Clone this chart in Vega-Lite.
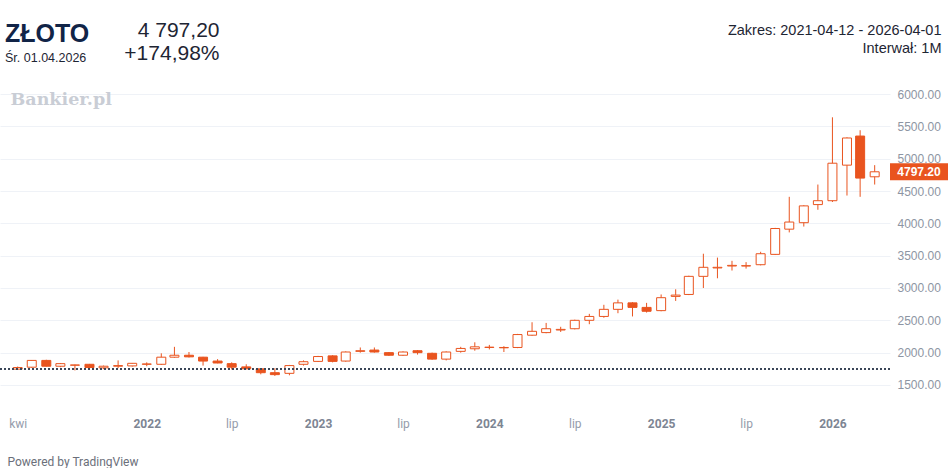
{
  "$schema": "https://vega.github.io/schema/vega-lite/v6.json",
  "width": 890,
  "height": 324,
  "autosize": {"type": "none"},
  "padding": {"left": 0, "top": 84, "right": 58, "bottom": 60},
  "background": "white",
  "config": {"view": {"stroke": null}, "font": "Liberation Sans"},
  "title": {
    "text": "ZŁOTO",
    "subtitle": "Śr. 01.04.2026",
    "anchor": "start",
    "frame": "group",
    "offset": 20,
    "dx": 5,
    "dy": 65,
    "font": "Liberation Sans",
    "fontSize": 25,
    "fontWeight": "bold",
    "color": "#112447",
    "subtitleFont": "Liberation Sans",
    "subtitleFontSize": 12.5,
    "subtitleColor": "#1e2533",
    "subtitlePadding": 5
  },
  "data": {
    "values": [
      {"date": "2021-04-01", "open": 1745, "high": 1785, "low": 1735, "close": 1770},
      {"date": "2021-05-01", "open": 1775, "high": 1885, "low": 1765, "close": 1880},
      {"date": "2021-06-01", "open": 1880, "high": 1890, "low": 1785, "close": 1790},
      {"date": "2021-07-01", "open": 1790, "high": 1840, "low": 1775, "close": 1830},
      {"date": "2021-08-01", "open": 1805, "high": 1815, "low": 1725, "close": 1810},
      {"date": "2021-09-01", "open": 1820, "high": 1825, "low": 1765, "close": 1770},
      {"date": "2021-10-01", "open": 1765, "high": 1800, "low": 1745, "close": 1790},
      {"date": "2021-11-01", "open": 1790, "high": 1880, "low": 1760, "close": 1800},
      {"date": "2021-12-01", "open": 1795, "high": 1840, "low": 1785, "close": 1835},
      {"date": "2022-01-01", "open": 1820, "high": 1850, "low": 1790, "close": 1825},
      {"date": "2022-02-01", "open": 1820, "high": 1990, "low": 1810, "close": 1930},
      {"date": "2022-03-01", "open": 1930, "high": 2090, "low": 1920, "close": 1960},
      {"date": "2022-04-01", "open": 1960, "high": 2010, "low": 1925, "close": 1935},
      {"date": "2022-05-01", "open": 1930, "high": 1935, "low": 1800, "close": 1870},
      {"date": "2022-06-01", "open": 1870, "high": 1900, "low": 1835, "close": 1840},
      {"date": "2022-07-01", "open": 1830, "high": 1850, "low": 1740, "close": 1775},
      {"date": "2022-08-01", "open": 1780, "high": 1820, "low": 1745, "close": 1750},
      {"date": "2022-09-01", "open": 1750, "high": 1760, "low": 1665, "close": 1690},
      {"date": "2022-10-01", "open": 1690, "high": 1760, "low": 1640, "close": 1660},
      {"date": "2022-11-01", "open": 1680, "high": 1810, "low": 1650, "close": 1800},
      {"date": "2022-12-01", "open": 1820, "high": 1880, "low": 1800, "close": 1860},
      {"date": "2023-01-01", "open": 1865, "high": 1950, "low": 1855, "close": 1940},
      {"date": "2023-02-01", "open": 1950, "high": 1960, "low": 1850, "close": 1865},
      {"date": "2023-03-01", "open": 1870, "high": 2020, "low": 1860, "close": 2010},
      {"date": "2023-04-01", "open": 2020, "high": 2080, "low": 2000, "close": 2030},
      {"date": "2023-05-01", "open": 2040, "high": 2080, "low": 2000, "close": 2010},
      {"date": "2023-06-01", "open": 2000, "high": 2010, "low": 1950, "close": 1960},
      {"date": "2023-07-01", "open": 1960, "high": 2020, "low": 1950, "close": 2010},
      {"date": "2023-08-01", "open": 2030, "high": 2040, "low": 1970, "close": 2000},
      {"date": "2023-09-01", "open": 1990, "high": 2000, "low": 1890, "close": 1900},
      {"date": "2023-10-01", "open": 1900, "high": 2020, "low": 1880, "close": 2010},
      {"date": "2023-11-01", "open": 2020, "high": 2090, "low": 2000, "close": 2065},
      {"date": "2023-12-01", "open": 2060, "high": 2160, "low": 2030, "close": 2090},
      {"date": "2024-01-01", "open": 2080, "high": 2120, "low": 2050, "close": 2085},
      {"date": "2024-02-01", "open": 2080, "high": 2100, "low": 2010, "close": 2075},
      {"date": "2024-03-01", "open": 2080, "high": 2290, "low": 2070, "close": 2280},
      {"date": "2024-04-01", "open": 2270, "high": 2470, "low": 2260, "close": 2330},
      {"date": "2024-05-01", "open": 2310, "high": 2460, "low": 2300, "close": 2370},
      {"date": "2024-06-01", "open": 2350, "high": 2400, "low": 2320, "close": 2360},
      {"date": "2024-07-01", "open": 2370, "high": 2510, "low": 2360, "close": 2500},
      {"date": "2024-08-01", "open": 2500, "high": 2600, "low": 2440, "close": 2560},
      {"date": "2024-09-01", "open": 2560, "high": 2740, "low": 2540, "close": 2670},
      {"date": "2024-10-01", "open": 2670, "high": 2820, "low": 2610, "close": 2770},
      {"date": "2024-11-01", "open": 2770, "high": 2780, "low": 2560, "close": 2700},
      {"date": "2024-12-01", "open": 2700, "high": 2770, "low": 2620, "close": 2640},
      {"date": "2025-01-01", "open": 2650, "high": 2900, "low": 2640, "close": 2850},
      {"date": "2025-02-01", "open": 2870, "high": 2980, "low": 2800, "close": 2890},
      {"date": "2025-03-01", "open": 2900, "high": 3190, "low": 2890, "close": 3180},
      {"date": "2025-04-01", "open": 3180, "high": 3530, "low": 3000, "close": 3320},
      {"date": "2025-05-01", "open": 3310, "high": 3470, "low": 3150, "close": 3320},
      {"date": "2025-06-01", "open": 3340, "high": 3420, "low": 3270, "close": 3350},
      {"date": "2025-07-01", "open": 3340, "high": 3400, "low": 3300, "close": 3345},
      {"date": "2025-08-01", "open": 3360, "high": 3560, "low": 3350, "close": 3530},
      {"date": "2025-09-01", "open": 3520, "high": 3930, "low": 3510, "close": 3920},
      {"date": "2025-10-01", "open": 3910, "high": 4410, "low": 3860, "close": 4020},
      {"date": "2025-11-01", "open": 4010, "high": 4280, "low": 3950, "close": 4270},
      {"date": "2025-12-01", "open": 4290, "high": 4600, "low": 4210, "close": 4350},
      {"date": "2026-01-01", "open": 4350, "high": 5640, "low": 4330, "close": 4930},
      {"date": "2026-02-01", "open": 4900, "high": 5330, "low": 4430, "close": 5320},
      {"date": "2026-03-01", "open": 5350, "high": 5440, "low": 4410, "close": 4700},
      {"date": "2026-04-01", "open": 4720, "high": 4900, "low": 4600, "close": 4797.2}
    ]
  },
  "resolve": {"axis": {"x": "independent", "y": "independent"}},
  "layer": [
    {
      "mark": {"type": "rule", "color": "#e9541f", "strokeWidth": 1},
      "encoding": {
        "x": {
          "field": "date",
          "type": "temporal",
          "scale": {
            "type": "utc",
            "domain": [
              {"year": 2021, "month": 3, "date": 5, "utc": true},
              {"year": 2026, "month": 4, "date": 23, "utc": true}
            ]
          },
          "axis": {
            "orient": "bottom",
            "values": [
              {"year": 2021, "month": 4, "date": 1, "utc": true},
              {"year": 2022, "month": 1, "date": 1, "utc": true},
              {"year": 2022, "month": 7, "date": 1, "utc": true},
              {"year": 2023, "month": 1, "date": 1, "utc": true},
              {"year": 2023, "month": 7, "date": 1, "utc": true},
              {"year": 2024, "month": 1, "date": 1, "utc": true},
              {"year": 2024, "month": 7, "date": 1, "utc": true},
              {"year": 2025, "month": 1, "date": 1, "utc": true},
              {"year": 2025, "month": 7, "date": 1, "utc": true},
              {"year": 2026, "month": 1, "date": 1, "utc": true}
            ],
            "labelExpr": "utcmonth(datum.value) == 0 ? utcFormat(datum.value, '%Y') : (utcmonth(datum.value) == 3 ? 'kwi' : 'lip')",
            "labelFont": "Roboto",
            "labelFontSize": 12,
            "labelColor": {"condition": {"test": "utcmonth(datum.value) == 0", "value": "#7d8593"}, "value": "#959cab"},
            "labelFontWeight": {"condition": {"test": "utcmonth(datum.value) == 0", "value": "bold"}, "value": "normal"},
            "labelPadding": 10,
            "labelOverlap": false,
            "labelFlush": false,
            "ticks": false,
            "domain": false,
            "grid": false,
            "title": "Powered by TradingView",
            "titleX": 7,
            "titleY": 57,
            "titleAlign": "left",
            "titleBaseline": "alphabetic",
            "titleAngle": 0,
            "titleFont": "Roboto",
            "titleFontSize": 12,
            "titleFontWeight": "normal",
            "titleColor": "#6b6f7a"
          }
        },
        "y": {
          "field": "low",
          "type": "quantitative",
          "scale": {"domain": [1144, 6155], "nice": false, "zero": false},
          "axis": {
            "orient": "right",
            "values": [1500, 2000, 2500, 3000, 3500, 4000, 4500, 5000, 5500, 6000],
            "format": ".2f",
            "labelFont": "Liberation Sans",
            "labelFontSize": 12,
            "labelColor": "#8d95a3",
            "labelPadding": 7,
            "labelAlign": "left",
            "ticks": false,
            "domain": false,
            "grid": true,
            "gridColor": "#eff2f7",
            "title": ["Zakres: 2021-04-12 - 2026-04-01", "Interwał: 1M"],
            "titleAngle": 0,
            "titleAlign": "right",
            "titleBaseline": "alphabetic",
            "titleX": 51,
            "titleY": -50,
            "titleFont": "Liberation Sans",
            "titleFontSize": 14.5,
            "titleFontWeight": "normal",
            "titleColor": "#1e2533",
            "titleLineHeight": 18
          }
        },
        "y2": {"field": "high"}
      }
    },
    {
      "mark": {"type": "bar", "size": 9, "stroke": "#e9541f", "strokeWidth": 1},
      "encoding": {
        "x": {
          "field": "date",
          "type": "temporal",
          "axis": {
            "orient": "top",
            "labels": false,
            "ticks": false,
            "domain": false,
            "grid": false,
            "title": ["4 797,20", "+174,98%"],
            "titleX": 219,
            "titleY": -48,
            "titleAlign": "right",
            "titleBaseline": "alphabetic",
            "titleAngle": 0,
            "titleFont": "Liberation Sans",
            "titleFontSize": 21,
            "titleFontWeight": "normal",
            "titleColor": "#1e2533",
            "titleLineHeight": 23
          }
        },
        "y": {
          "field": "open",
          "type": "quantitative",
          "axis": {
            "orient": "left",
            "labels": false,
            "ticks": false,
            "domain": false,
            "grid": false,
            "title": "Bankier.pl",
            "titleX": 10,
            "titleY": 20,
            "titleAlign": "left",
            "titleBaseline": "alphabetic",
            "titleAngle": 0,
            "titleFont": "DejaVu Serif",
            "titleFontSize": 17.5,
            "titleFontWeight": "bold",
            "titleColor": "#c9cdd5"
          }
        },
        "y2": {"field": "close"},
        "fill": {
          "condition": {"test": "datum.close < datum.open", "value": "#e9541f"},
          "value": "#ffffff"
        }
      }
    },
    {
      "mark": {"type": "rule", "color": "#3d4758", "strokeDash": [2, 2], "strokeWidth": 1},
      "encoding": {
        "y": {"datum": 1744.6, "type": "quantitative", "axis": null}
      }
    },
    {
      "transform": [{"filter": "datum.close == 4797.2"}],
      "mark": {"type": "tick", "orient": "horizontal", "color": "#e9541f", "size": 60, "thickness": 17, "xOffset": 30, "opacity": 1},
      "encoding": {
        "x": {"value": "width"},
        "y": {"field": "close", "type": "quantitative", "axis": null}
      }
    },
    {
      "transform": [{"filter": "datum.close == 4797.2"}],
      "mark": {"type": "text", "align": "center", "baseline": "middle", "dx": 29, "color": "#ffffff", "font": "Liberation Sans", "fontSize": 12, "fontWeight": "bold"},
      "encoding": {
        "x": {"value": "width"},
        "y": {"field": "close", "type": "quantitative", "axis": null},
        "text": {"field": "close", "type": "quantitative", "format": ".2f"}
      }
    }
  ]
}
